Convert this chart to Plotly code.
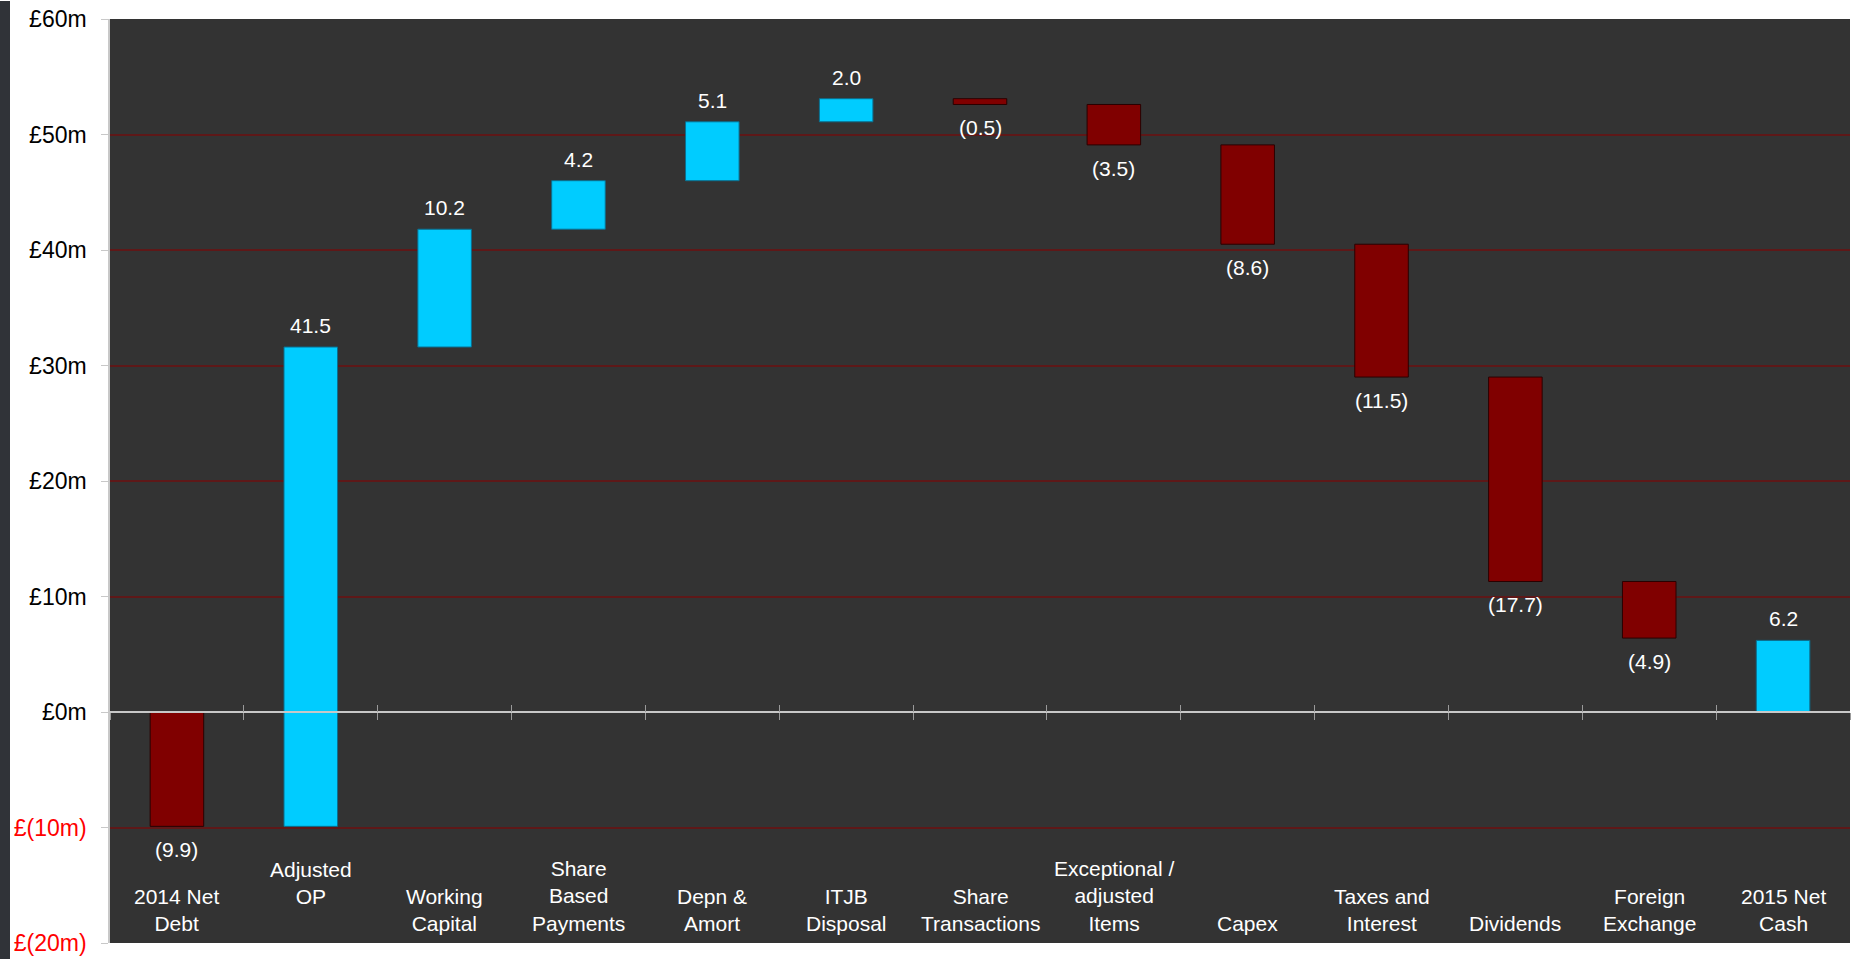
import numpy as np
import plotly.graph_objects as go

# Net cash bridge, 2014 -> 2015 (£m)
categories = [
    "2014 Net<br>Debt", "Adjusted<br>OP", "Working<br>Capital", "Share<br>Based<br>Payments",
    "Depn &<br>Amort", "ITJB<br>Disposal", "Share<br>Transactions",
    "Exceptional /<br>adjusted<br>Items", "Capex", "Taxes and<br>Interest", "Dividends",
    "Foreign<br>Exchange", "2015 Net<br>Cash",
]
values = [-9.9, 41.5, 10.2, 4.2, 5.1, 2.0, -0.5, -3.5, -8.6, -11.5, -17.7, -4.9, 6.2]
measures = ["relative"] * 12 + ["absolute"]

y_tickvals = [60, 50, 40, 30, 20, 10, 0, -10, -20]
y_ticktext = ["£60m", "£50m", "£40m", "£30m", "£20m", "£10m", "£0m",
              '<span style="color:#ff0000">£(10m)</span>',
              '<span style="color:#ff0000">£(20m)</span>']

CYAN = "#00ccff"
MAROON = "#800000"
FONT = "Arial, Liberation Sans, sans-serif"

fig = go.Figure()
fig.add_trace(go.Waterfall(
    x=categories, y=values, measure=measures,
    increasing=dict(marker=dict(color=CYAN, line=dict(color="#0b6f8f", width=1))),
    decreasing=dict(marker=dict(color=MAROON, line=dict(color="#2a0000", width=1))),
    totals=dict(marker=dict(color=CYAN, line=dict(color="#0b6f8f", width=1))),
    connector=dict(visible=False),
    hoverinfo="skip", showlegend=False,
))
# invisible companion trace carrying the upper tick marks of the zero axis
fig.add_trace(go.Scatter(x=categories, y=[0] * len(categories), xaxis="x2",
                         mode="markers", marker=dict(opacity=0), hoverinfo="skip",
                         showlegend=False))

# value labels at the end of each step
level = 0.0
for cat, v, m in zip(categories, values, measures):
    start = 0.0 if m == "absolute" else level
    end = v if m == "absolute" else level + v
    level = end
    label = f"{abs(v):.1f}" if v >= 0 else f"({abs(v):.1f})"
    up = end >= start
    fig.add_annotation(x=cat, y=end, text=label, showarrow=False,
                       yanchor="bottom" if up else "top",
                       yshift=8 if up else -10,
                       font=dict(family=FONT, size=21, color="white"))

# category names inside the lowest band of the plot
for cat in categories:
    extra = 27 if cat == "Adjusted<br>OP" else 0
    fig.add_annotation(x=cat, y=-20, text=cat, showarrow=False, yanchor="bottom",
                       yshift=6 + extra, align="center",
                       font=dict(family=FONT, size=21, color="white"))

n = len(categories)
axis_line = "#c8c8c8"
fig.update_layout(
    width=1856, height=962,
    paper_bgcolor="white", plot_bgcolor="#333333",
    margin=dict(l=110, r=6, t=18, b=16),
    waterfallgap=0.6,
    font=dict(family=FONT, size=20, color="black"),
    xaxis=dict(type="category", range=[-0.5, n - 0.5], anchor="free", position=0.25,
               showline=True, linecolor=axis_line, linewidth=1.5, ticks="outside",
               ticklen=7, tickcolor="#9a9a9a", tickson="boundaries",
               showticklabels=False, showgrid=False, zeroline=False),
    xaxis2=dict(type="category", overlaying="x", matches="x", anchor="free",
                position=0.25, side="bottom", showline=False, ticks="inside",
                ticklen=7, tickcolor="#9a9a9a", tickson="boundaries",
                showticklabels=False, showgrid=False, zeroline=False),
    yaxis=dict(range=[-20, 60], tickvals=y_tickvals, ticktext=y_ticktext,
               showline=True, linecolor=axis_line, linewidth=1.5,
               ticks="outside", ticklen=7, tickcolor=axis_line,
               ticklabelstandoff=10,
               tickfont=dict(family=FONT, size=23, color="black"),
               showgrid=True, gridcolor="#5e1818", gridwidth=1.5, zeroline=False),
    shapes=[dict(type="rect", xref="paper", yref="paper",
                 x0=-110 / 1740, x1=-100 / 1740, y0=-16 / 928, y1=1 + 18 / 928,
                 fillcolor="#303338", line=dict(width=0), layer="above")],
)

fig.write_html("out.html")
